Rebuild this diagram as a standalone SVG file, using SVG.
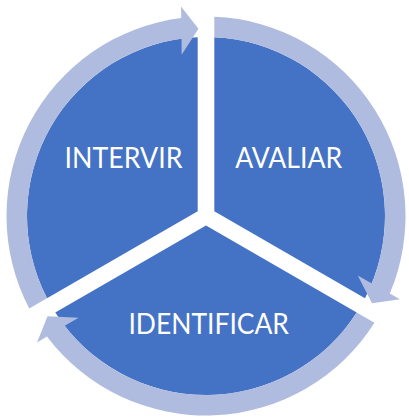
<svg xmlns="http://www.w3.org/2000/svg" xmlns:xlink="http://www.w3.org/1999/xlink" width="409" height="417" viewBox="0 0 409 417">
  <style>
    .sector { fill: #4472C4; stroke: none; }
    .ring { fill: #B0BCDF; stroke: none; }
    .label { font-family: Lato, "Open Sans", "Liberation Sans", sans-serif; font-size: 29px; fill: #FFFFFF; text-anchor: middle; }
  </style>
  <defs>
    <path id="cycleArrow" class="ring" d="M 46.99 298.2 L 29.22 308.47 A 199.5 199.5 0 0 1 181.27 18.04 L 181.02 6.48 L 198.48 28.65 L 181.62 54.83 L 181.55 38.68 A 179 179 0 0 0 46.99 298.2 Z"/>
  </defs>
  <rect width="409" height="417" fill="#FFFFFF"/>
  <g id="node-avaliar">
    <path class="sector" d="M 214.3 211.21 L 214.3 37.19 A 179 179 0 0 1 365.0 298.2 Z"/>
    <text class="label" x="288.7" y="168.3" textLength="107" lengthAdjust="spacingAndGlyphs">AVALIAR</text>
  </g>
  <g id="node-identificar">
    <path class="sector" d="M 206 225.58 L 356.72 312.59 A 179 179 0 0 1 55.28 312.59 Z"/>
    <text class="label" x="208.7" y="334.3" textLength="160.5" lengthAdjust="spacingAndGlyphs">IDENTIFICAR</text>
  </g>
  <g id="node-intervir">
    <path class="sector" d="M 197.7 211.21 L 46.99 298.21 A 179 179 0 0 1 197.7 37.19 Z"/>
    <text class="label" x="123.5" y="168.3" textLength="118" lengthAdjust="spacingAndGlyphs">INTERVIR</text>
  </g>
  <g id="connectors">
    <use xlink:href="#cycleArrow" href="#cycleArrow"/>
    <use xlink:href="#cycleArrow" href="#cycleArrow" transform="rotate(120 206 216)"/>
    <use xlink:href="#cycleArrow" href="#cycleArrow" transform="rotate(240 206 216)"/>
  </g>
</svg>
